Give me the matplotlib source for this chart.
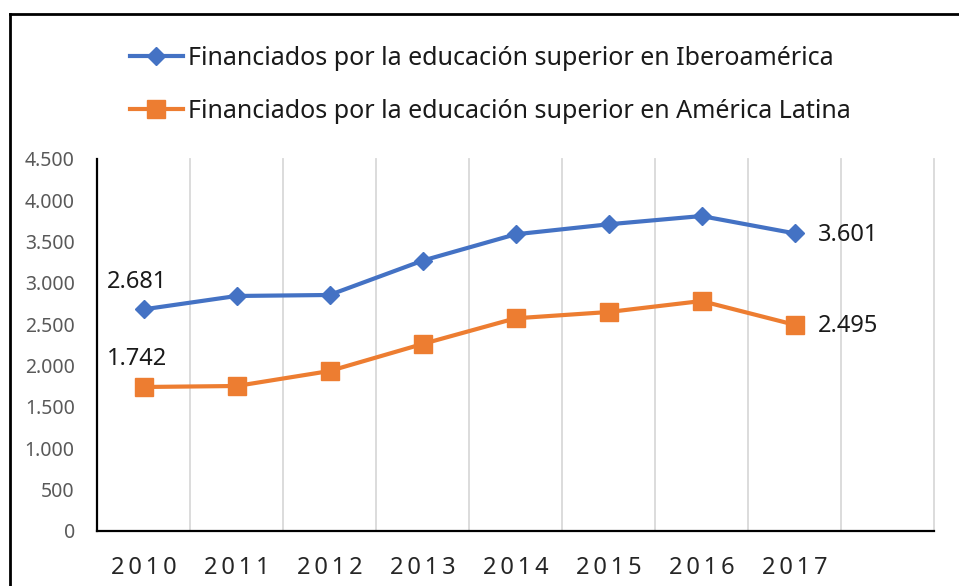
import matplotlib.pyplot as plt
from matplotlib.lines import Line2D
from matplotlib.ticker import FuncFormatter

years = ["2010", "2011", "2012", "2013", "2014", "2015", "2016", "2017"]
iberoamerica = [2681, 2843, 2855, 3270, 3589, 3710, 3810, 3601]
america_latina = [1742, 1754, 1935, 2262, 2573, 2649, 2782, 2495]

label_ibero = "Financiados por la educación superior en Iberoamérica"
label_latam = "Financiados por la educación superior en América Latina"

BLUE = "#4472C4"
ORANGE = "#ED7D31"

plt.rcParams["font.family"] = ["Noto Sans", "DejaVu Sans"]

fig = plt.figure(figsize=(9.59, 5.86), dpi=100)
ax = fig.add_axes([97 / 959, 55 / 586, 837 / 959, 372 / 586])

x = list(range(len(years)))
ax.plot(x, iberoamerica, color=BLUE, lw=3, marker="D", ms=9,
        label=label_ibero, zorder=3)
ax.plot(x, america_latina, color=ORANGE, lw=3, marker="s", ms=13,
        label=label_latam, zorder=3)

ax.set_xlim(-0.5, len(years) + 0.5)
ax.set_ylim(0, 4500)
ax.set_yticks(range(0, 4501, 500))
ax.yaxis.set_major_formatter(
    FuncFormatter(lambda v, _: f"{int(v):,}".replace(",", ".")))
ax.set_xticks(x)
# spaced-out year labels
ax.set_xticklabels(["\u2009".join(y) for y in years])

# vertical separators between categories, including the empty last slot
for gx in [i + 0.5 for i in range(len(years) + 1)]:
    ax.axvline(gx, color="#D9D9D9", lw=1.3, zorder=1, clip_on=False)

for side in ("top", "right"):
    ax.spines[side].set_visible(False)
for side in ("left", "bottom"):
    ax.spines[side].set_linewidth(1.6)
    ax.spines[side].set_color("black")

ax.tick_params(axis="both", length=0)
ax.tick_params(axis="y", pad=16, labelsize=14, labelcolor="#595959")
ax.tick_params(axis="x", pad=18, labelsize=17, labelcolor="#262626")

# first and last values written next to the points
fmt = lambda v: f"{v:,}".replace(",", ".")
for series in (iberoamerica, america_latina):
    ax.annotate(fmt(series[0]), (x[0], series[0]), xytext=(-5, 20),
                textcoords="offset points", ha="center", va="center",
                fontsize=17, color="#1a1a1a")
    ax.annotate(fmt(series[-1]), (x[-1], series[-1]), xytext=(17, -1),
                textcoords="offset points", ha="left", va="center",
                fontsize=17, color="#1a1a1a")

fig.legend(loc="upper left", bbox_to_anchor=(120 / 959, 1 - 36 / 586),
           frameon=False, fontsize=18, handlelength=2.1, handletextpad=0.2,
           labelspacing=1.12, labelcolor="#1a1a1a", borderaxespad=0)

# frame around the chart
fig.add_artist(Line2D([10 / 959, 10 / 959], [0, 1 - 14 / 586],
                      transform=fig.transFigure, color="black", lw=2))
fig.add_artist(Line2D([10 / 959, 1], [1 - 14 / 586, 1 - 14 / 586],
                      transform=fig.transFigure, color="black", lw=2))

fig.savefig("out.png", dpi=100)
